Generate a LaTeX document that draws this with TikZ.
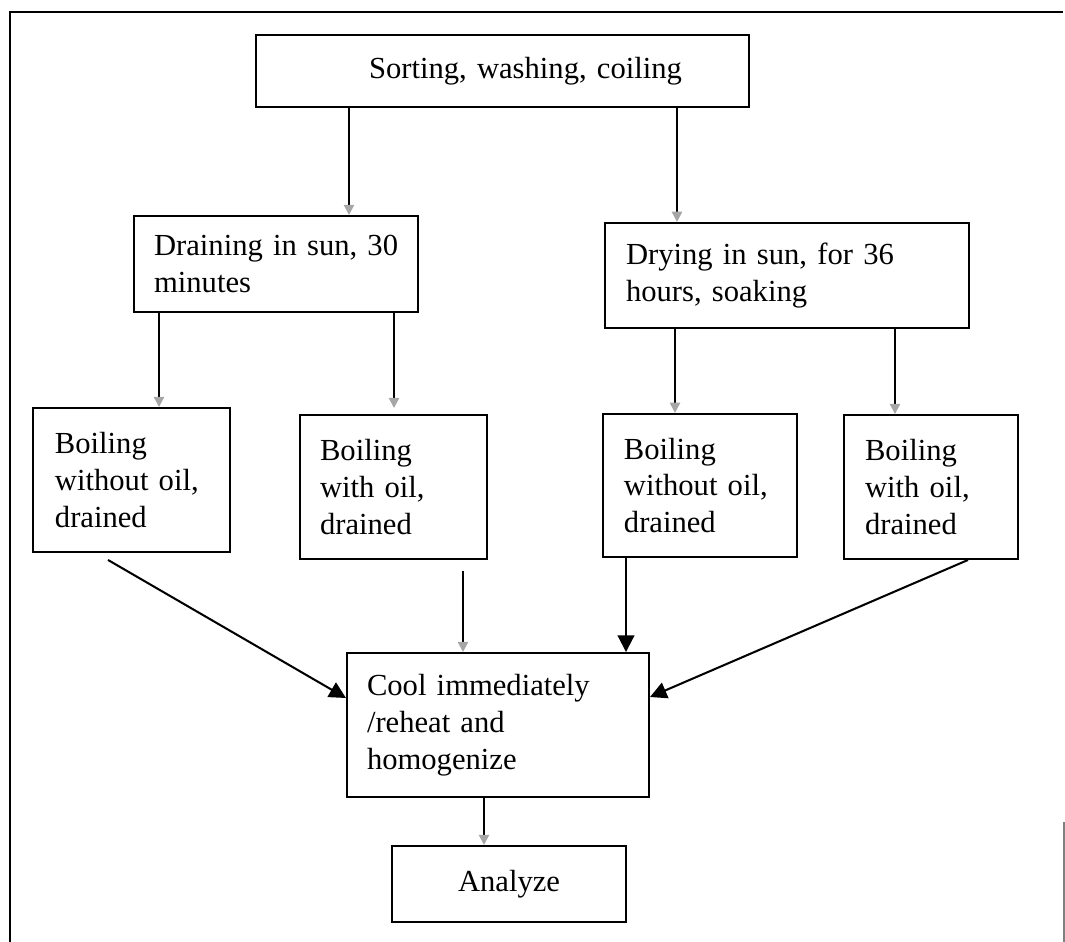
\documentclass[tikz,border=0pt]{standalone}
\usepackage{fontspec}
\setmainfont{Liberation Serif}
\usepackage{tikz}
\usetikzlibrary{arrows.meta, calc}

\begin{document}
\begin{tikzpicture}[x=0.392pt, y=-0.392pt,
  font=\fontsize{12pt}{14.4pt}\selectfont,
  stage/.style={draw, line width=0.8pt, align=left, inner ysep=0pt},
  flow/.style={line width=0.8pt, -{Triangle[width=4pt,length=4pt,color=gray!70]}},
  flowdark/.style={line width=0.8pt, -{Triangle[width=6.5pt,length=6.5pt]}}]
\useasboundingbox (0,0) rectangle (1065,942);
\draw[line width=0.8pt] (10,942) -- (10,12) -- (1063,12);
\draw[gray, line width=0.6pt] (1064,822) -- (1064,942);

\node[stage, align=right, text width=140.7pt, inner xsep=26.3pt, minimum height=28.2pt] (sort) at (502.5,71) {Sorting, washing, coiling};
\node[stage, text width=95.6pt, inner xsep=7.84pt, minimum height=37.6pt] (drain) at (276,264) {\mbox{Draining in sun, 30}\\minutes};
\node[stage, text width=126.2pt, inner xsep=8.2pt, minimum height=41.2pt] (dry) at (787,275.5) {\mbox{Drying in sun, for 36}\\hours, soaking};
\node[stage, text width=60pt, inner xsep=8.6pt, minimum height=56.4pt] (boilA) at (131.5,480) {Boiling\\\mbox{without oil,}\\drained};
\node[stage, text width=57.6pt, inner xsep=7.84pt, minimum height=56.4pt] (boilB) at (393.5,487) {Boiling\\with oil,\\drained};
\node[stage, text width=59.6pt, inner xsep=8.2pt, minimum height=56.1pt] (boilC) at (700,485.5) {Boiling\\\mbox{without oil,}\\drained};
\node[stage, text width=51.7pt, inner xsep=8.2pt, minimum height=56.4pt] (boilD) at (931,487) {Boiling\\with oil,\\drained};
\node[stage, text width=102.7pt, inner xsep=7.84pt, minimum height=56.4pt] (cool) at (498,725) {\mbox{Cool immediately}\\/reheat and\\homogenize};
\node[stage, align=center, minimum width=91.7pt, minimum height=29.8pt] (analyze) at (509,884) {Analyze};

\draw[flow] (sort.south -| 349,0) -- (drain.north -| 349,0);
\draw[flow] (sort.south -| 677,0) -- (dry.north -| 677,0);
\draw[flow] (drain.south -| 159,0) -- (boilA.north -| 159,0);
\draw[flow] (drain.south -| 394,0) -- ($(boilB.north -| 394,0)+(0,-6)$);
\draw[flow] (dry.south -| 675,0) -- (boilC.north -| 675,0);
\draw[flow] (dry.south -| 895,0) -- (boilD.north -| 895,0);
\draw[flowdark] ($(boilA.south -| 108,0)+(0,7)$) -- (cool.west |- 0,698);
\draw[flow] ($(boilB.south -| 463,0)+(0,11)$) -- (cool.north -| 463,0);
\draw[flowdark] (boilC.south -| 626,0) -- (cool.north -| 626,0);
\draw[flowdark] (boilD.south -| 968,0) -- (cool.east |- 0,697);
\draw[flow] (cool.south -| 484,0) -- (analyze.north -| 484,0);
\end{tikzpicture}
\end{document}
